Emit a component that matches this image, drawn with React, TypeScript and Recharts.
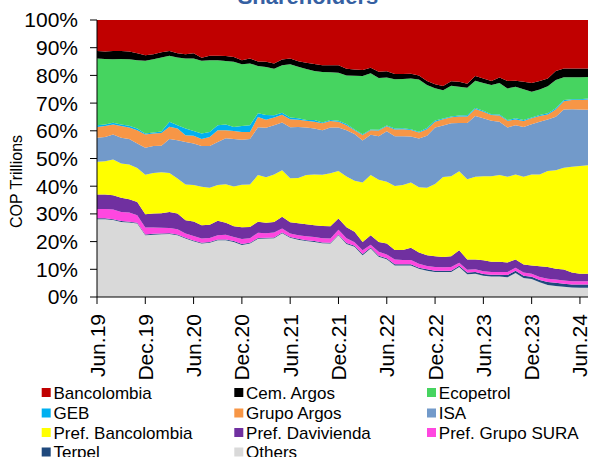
import React from 'react'
import { AreaChart, Area, XAxis, YAxis, Legend } from 'recharts'

// monthly, Jun.19 .. Jul.24
const months = [
  'Jun.19', 'Jul.19', 'Aug.19', 'Sep.19', 'Oct.19', 'Nov.19', 'Dec.19',
  'Jan.20', 'Feb.20', 'Mar.20', 'Apr.20', 'May.20', 'Jun.20', 'Jul.20', 'Aug.20', 'Sep.20', 'Oct.20', 'Nov.20', 'Dec.20',
  'Jan.21', 'Feb.21', 'Mar.21', 'Apr.21', 'May.21', 'Jun.21', 'Jul.21', 'Aug.21', 'Sep.21', 'Oct.21', 'Nov.21', 'Dec.21',
  'Jan.22', 'Feb.22', 'Mar.22', 'Apr.22', 'May.22', 'Jun.22', 'Jul.22', 'Aug.22', 'Sep.22', 'Oct.22', 'Nov.22', 'Dec.22',
  'Jan.23', 'Feb.23', 'Mar.23', 'Apr.23', 'May.23', 'Jun.23', 'Jul.23', 'Aug.23', 'Sep.23', 'Oct.23', 'Nov.23', 'Dec.23',
  'Jan.24', 'Feb.24', 'Mar.24', 'Apr.24', 'May.24', 'Jun.24', 'Jul.24'
]

// shares in % (stack bottom -> top)
const others = [
  28.1, 28.1, 27.8, 27.1, 26.9, 26.5, 22.3, 22.5, 22.7, 22.7, 22.3, 21.1, 20.1, 19.3, 19.6, 20.5,
  20.5, 19.9, 18.8, 19.3, 21.0, 21.1, 21.2, 23.0, 21.4, 20.7, 20.2, 19.9, 19.4, 19.3, 22.3,
  19.1, 18.1, 15.1, 17.5, 14.5, 13.6, 11.4, 11.4, 11.4, 10.2, 9.5, 9.0, 9.0, 9.0, 10.8,
  8.2, 8.4, 7.7, 7.4, 7.4, 7.1, 8.7, 6.9, 6.5, 5.3, 4.3, 4.0, 3.7, 3.4, 3.3, 3.3
]
const terpel = [
  0.3, 0.3, 0.3, 0.3, 0.3, 0.3, 0.3, 0.3, 0.3, 0.3, 0.3, 0.3, 0.3, 0.3, 0.3, 0.3,
  0.3, 0.3, 0.3, 0.3, 0.3, 0.3, 0.3, 0.3, 0.3, 0.3, 0.3, 0.3, 0.3, 0.3, 0.3,
  0.4, 0.4, 0.4, 0.4, 0.4, 0.4, 0.4, 0.4, 0.4, 0.4, 0.5, 0.5, 0.5, 0.5, 0.5,
  0.6, 0.6, 0.6, 0.6, 0.6, 0.8, 0.8, 0.8, 0.8, 0.8, 1.1, 1.1, 1.1, 1.1, 1.2, 1.2
]
const prefSura = [
  3.4, 3.4, 3.5, 3.3, 3.3, 2.7, 2.5, 2.3, 2.1, 1.9, 1.9, 1.5, 1.6, 1.5, 1.4, 1.5,
  1.7, 1.5, 1.8, 1.6, 1.9, 1.6, 1.8, 1.4, 1.2, 1.3, 1.4, 1.5, 1.5, 1.5, 1.7,
  1.7, 1.3, 1.4, 1.0, 1.4, 1.3, 1.7, 1.6, 1.6, 1.4, 1.2, 1.3, 1.3, 1.3, 1.1,
  1.0, 1.0, 1.0, 1.0, 1.0, 1.1, 1.1, 1.1, 1.1, 1.1, 1.2, 1.2, 1.2, 1.2, 1.2, 1.2
]
const prefDavivienda = [
  5.2, 5.2, 5.1, 5.1, 4.8, 4.8, 4.8, 5.0, 5.3, 5.8, 5.6, 4.8, 5.3, 4.8, 4.8, 5.2,
  4.3, 3.8, 4.3, 4.1, 4.0, 3.8, 3.8, 4.3, 4.1, 4.3, 4.4, 4.2, 4.4, 4.4, 4.0,
  4.0, 3.8, 3.0, 3.4, 3.6, 4.0, 3.5, 3.6, 4.4, 4.1, 3.9, 3.9, 3.7, 3.9, 4.5,
  3.7, 3.5, 4.0, 3.7, 3.7, 3.5, 2.9, 2.9, 3.0, 3.9, 4.2, 3.9, 3.9, 3.1, 2.7, 2.7
]
const prefBancolombia = [
  11.8, 12.0, 12.9, 12.4, 12.5, 12.3, 14.3, 14.7, 14.8, 14.1, 12.7, 12.9, 13.1, 13.9, 13.3, 12.9,
  13.9, 14.4, 15.3, 15.3, 16.8, 16.4, 17.1, 16.8, 15.9, 16.4, 17.7, 18.3, 18.5, 19.2, 17.2,
  18.3, 18.4, 21.5, 21.7, 22.4, 22.3, 23.1, 23.4, 23.5, 23.5, 24.3, 26.1, 28.9, 28.9, 28.5,
  29.0, 29.9, 30.3, 30.9, 31.3, 30.9, 30.7, 31.7, 32.8, 33.1, 34.7, 35.6, 36.8, 38.2, 38.9, 39.2
]
const isa = [
  8.7, 8.8, 9.1, 9.3, 9.2, 8.8, 9.7, 9.7, 9.6, 12.2, 13.8, 15.4, 15.0, 14.7, 15.1, 15.6,
  16.6, 17.1, 16.3, 16.4, 17.3, 17.9, 17.8, 17.2, 18.4, 18.4, 17.2, 16.6, 16.1, 16.5, 15.7,
  16.7, 16.8, 15.2, 14.6, 15.7, 18.2, 17.9, 17.6, 16.6, 17.6, 18.8, 20.4, 18.6, 19.1, 17.4,
  20.3, 21.9, 20.9, 20.0, 19.3, 17.8, 17.8, 18.0, 18.2, 19.1, 18.6, 19.3, 21.0, 20.8, 20.4, 20.0
]
const grupoArgos = [
  3.9, 3.9, 3.6, 4.2, 4.2, 4.8, 4.8, 4.5, 4.6, 4.5, 4.2, 2.4, 2.8, 2.5, 3.3, 4.2,
  2.9, 2.9, 2.8, 2.6, 3.7, 2.9, 2.8, 2.8, 2.9, 2.6, 2.4, 2.5, 2.5, 2.3, 2.1,
  1.8, 1.4, 1.9, 1.6, 2.1, 1.8, 2.5, 2.6, 2.4, 2.2, 2.4, 2.1, 2.3, 2.2, 2.4,
  2.4, 2.6, 2.4, 2.1, 2.2, 2.4, 2.1, 2.1, 2.1, 2.0, 1.8, 2.6, 3.0, 3.3, 3.4, 3.7
]
const geb = [
  0.6, 0.6, 0.6, 0.6, 0.6, 0.6, 0.4, 0.4, 0.6, 1.8, 1.2, 2.4, 1.7, 2.0, 1.8, 1.8,
  2.1, 1.5, 2.1, 2.4, 1.3, 1.7, 0.8, 0.7, 0.6, 0.5, 0.3, 0.6, 0.3, 0.4, 0.3,
  0.5, 0.3, 0.3, 0.3, 0.3, 0.3, 0.3, 0.3, 0.3, 0.3, 0.4, 0.4, 0.3, 0.3, 0.3,
  0.4, 0.3, 0.3, 0.3, 0.4, 0.3, 0.4, 0.4, 0.3, 0.4, 0.4, 0.4, 0.4, 0.3, 0.3, 0.4
]
const ecopetrol = [
  24.1, 23.6, 22.9, 23.6, 24.0, 24.7, 26.3, 26.4, 26.8, 23.8, 24.5, 25.3, 26.2, 26.3, 25.9, 23.5,
  22.9, 23.5, 22.3, 22.3, 17.1, 17.3, 16.8, 17.2, 19.2, 18.6, 18.4, 17.7, 18.2, 17.2, 17.4,
  17.5, 19.4, 21.1, 20.3, 18.7, 17.3, 17.8, 17.8, 18.3, 18.8, 15.5, 11.7, 10.2, 11.1, 10.4,
  9.9, 9.9, 10.1, 10.5, 11.4, 11.4, 11.4, 11.1, 9.3, 9.2, 9.8, 10.2, 8.2, 7.9, 7.9, 7.7
]
const cemArgos = [
  2.7, 2.7, 3.0, 2.9, 2.8, 2.5, 2.0, 1.8, 1.9, 1.7, 1.5, 1.5, 1.9, 1.1, 1.6, 1.6,
  1.8, 1.7, 1.5, 1.8, 1.6, 1.9, 1.9, 2.0, 2.1, 2.0, 2.3, 2.5, 2.5, 2.6, 2.7,
  2.4, 2.2, 2.1, 2.0, 2.2, 2.3, 1.9, 1.8, 1.7, 1.5, 1.5, 1.4, 1.5, 1.6, 1.8,
  1.5, 1.7, 1.6, 1.5, 1.9, 2.7, 2.2, 2.7, 3.2, 3.1, 2.8, 3.3, 3.2, 3.2, 3.2, 3.1
]
const bancolombia = [
  11.2, 11.4, 11.2, 11.2, 11.4, 12.0, 12.7, 12.4, 11.7, 11.2, 12.0, 12.4, 12.0, 13.6, 12.9, 12.9,
  13.0, 13.4, 14.5, 13.9, 15.0, 15.1, 15.7, 14.3, 13.9, 14.9, 15.4, 15.9, 16.3, 16.3, 16.3,
  17.6, 17.9, 18.1, 17.2, 18.7, 18.5, 19.5, 19.5, 19.4, 20.0, 22.0, 23.2, 23.9, 22.1, 22.3,
  23.0, 20.2, 21.1, 22.0, 20.8, 22.0, 21.9, 22.3, 22.7, 22.0, 21.1, 18.4, 17.5, 17.5, 17.5, 17.5
]

const yTicks = [0, 0.1, 0.2, 0.3, 0.4, 0.5, 0.6, 0.7, 0.8, 0.9, 1]

// bottom of stack first
const series = [
  { key: 'Others', values: others, color: '#D9D9D9' },
  { key: 'Terpel', values: terpel, color: '#1F497D' },
  { key: 'Pref. Grupo SURA', values: prefSura, color: '#FF47E0' },
  { key: 'Pref. Davivienda', values: prefDavivienda, color: '#7030A0' },
  { key: 'Pref. Bancolombia', values: prefBancolombia, color: '#FFFF00' },
  { key: 'ISA', values: isa, color: '#729ACA' },
  { key: 'Grupo Argos', values: grupoArgos, color: '#F79646' },
  { key: 'GEB', values: geb, color: '#00B0F0' },
  { key: 'Ecopetrol', values: ecopetrol, color: '#46D460' },
  { key: 'Cem. Argos', values: cemArgos, color: '#000000' },
  { key: 'Bancolombia', values: bancolombia, color: '#C00000' }
]

const legendOrder = [
  'Bancolombia', 'Cem. Argos', 'Ecopetrol',
  'GEB', 'Grupo Argos', 'ISA',
  'Pref. Bancolombia', 'Pref. Davivienda', 'Pref. Grupo SURA',
  'Terpel', 'Others'
]

const data = months.map((m, i) => {
  const row: any = { month: m }
  series.forEach(s => { row[s.key] = s.values[i] })
  return row
})

const FONT = '"Liberation Sans", Arial, sans-serif'

const XTick = ({ x, y, payload }: any) => (
  <text
    x={x}
    y={y + 8}
    transform={`rotate(-90, ${x}, ${y + 8})`}
    textAnchor='end'
    dominantBaseline='central'
    fontSize={21}
    fontFamily={FONT}
    fill='#000'
  >
    {payload.value}
  </text>
)

const renderLegend = () => {
  const colX = [41.7, 234.3, 427]
  const rowY = [14.5, 35, 54.5, 74]
  return (
    <svg width={590} height={80} style={{ display: 'block' }}>
      {legendOrder.map((name, i) => {
        const s = series.find(d => d.key === name)!
        const cx = colX[i % 3]
        const cy = rowY[Math.floor(i / 3)]
        return (
          <g key={name}>
            <rect x={cx} y={cy - 4.5} width={9} height={9} fill={s.color} />
            <text x={cx + 11.8} y={cy + 6} fontSize={17} fontFamily={FONT} fill='#000'>
              {name}
            </text>
          </g>
        )
      })}
    </svg>
  )
}

export default function App () {
  return (
    <div style={{ position: 'absolute', left: 0, top: 0, width: 590, height: 457, background: '#fff', overflow: 'hidden' }}>
      <AreaChart
        width={590}
        height={457}
        data={data}
        stackOffset='expand'
        margin={{ top: 20, right: 2, bottom: 0, left: 0 }}
      >
        <XAxis
          dataKey='month'
          interval={5}
          height={160}
          tick={<XTick />}
          tickSize={7}
          axisLine={{ stroke: '#000' }}
          tickLine={{ stroke: '#000' }}
        />
        <YAxis
          width={97}
          domain={[0, 1]}
          ticks={yTicks}
          interval={0}
          tickFormatter={v => `${Math.round(v * 100)}%`}
          tickSize={7}
          tickMargin={12}
          tick={{ fontSize: 21, fontFamily: FONT, fill: '#000' }}
          axisLine={{ stroke: '#000' }}
          tickLine={{ stroke: '#000' }}
        />
        {series.map(s => (
          <Area
            key={s.key}
            type='linear'
            dataKey={s.key}
            stackId='1'
            stroke='none'
            fill={s.color}
            fillOpacity={1}
            isAnimationActive={false}
          />
        ))}
        <Legend
          layout='horizontal'
          verticalAlign='middle'
          align='center'
          content={renderLegend}
          wrapperStyle={{ left: 0, top: 378, width: 590, height: 80 }}
        />
      </AreaChart>
      <svg width={590} height={457} style={{ position: 'absolute', left: 0, top: 0, pointerEvents: 'none' }}>
        <text x={308} y={4} textAnchor='middle' fontSize={22} fontWeight='bold' fontFamily={FONT} fill='#3560A2'>
          Shareholders
        </text>
        <text
          x={21.5}
          y={181.5}
          transform='rotate(-90, 21.5, 181.5)'
          textAnchor='middle'
          fontSize={16}
          fontFamily={FONT}
          fill='#000'
        >
          COP Trillions
        </text>
      </svg>
    </div>
  )
}
